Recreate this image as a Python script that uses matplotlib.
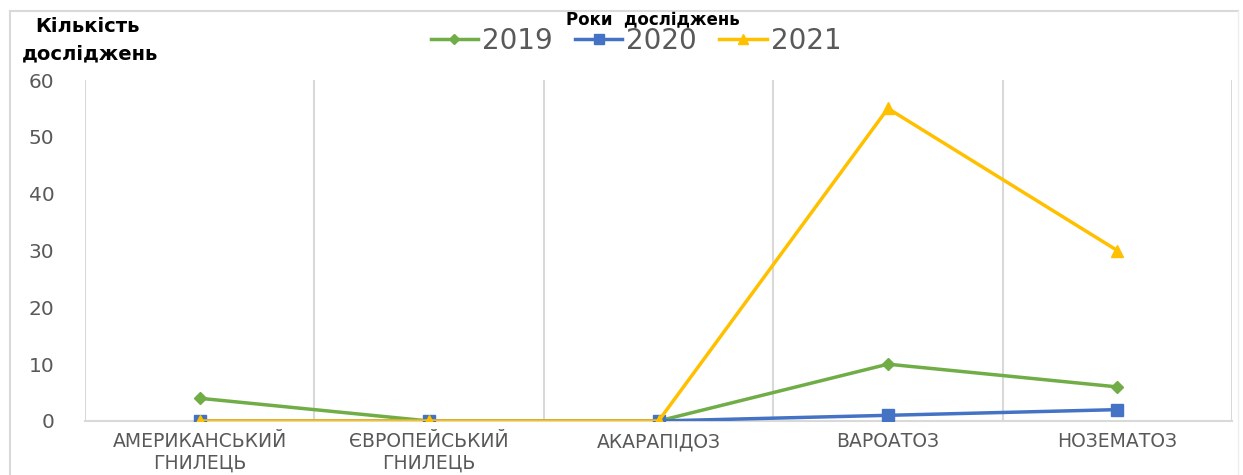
import numpy as np
import matplotlib.pyplot as plt
from matplotlib.lines import Line2D

plt.rcParams['font.family'] = ['DejaVu Sans']

categories = ['АМЕРИКАНСЬКИЙ\nГНИЛЕЦЬ', 'ЄВРОПЕЙСЬКИЙ\nГНИЛЕЦЬ', 'АКАРАПІДОЗ', 'ВАРОАТОЗ', 'НОЗЕМАТОЗ']
years = ['2019', '2020', '2021']
vals_2019 = [4, 0, 0, 10, 6]
vals_2020 = [0, 0, 0, 1, 2]
vals_2021 = [0, 0, 0, 55, 30]
yticks = [0, 10, 20, 30, 40, 50, 60]

colors = ['#70AD47', '#4472C4', '#FFC000']
markers = ['D', 's', '^']
msizes = [6, 9, 8]

W, H = 1243, 475
fig = plt.figure(figsize=(W / 100, H / 100), dpi=100)
ax = fig.add_axes([85 / W, 1 - 421 / H, (1232 - 85) / W, (421 - 80) / H])

x = np.arange(len(categories))
series = [vals_2019, vals_2020, vals_2021]
# 2021 is drawn last so its markers sit on top
for vals, c, m, ms in zip(series, colors, markers, msizes):
    ax.plot(x, vals, color=c, lw=2.5, marker=m, markersize=ms, zorder=3)

ax.set_xlim(-0.5, len(categories) - 0.5)
ax.set_ylim(0, 60)
ax.set_yticks(yticks)
ax.set_xticks(x)
ax.set_xticklabels(categories, fontsize=13.5, color='#595959', linespacing=1.2)
ax.tick_params(axis='y', labelsize=14.5, colors='#595959', length=0, pad=22)
ax.tick_params(axis='x', length=0, pad=8)

# vertical separators between categories
for b in np.arange(-0.5, len(categories)):
    ax.axvline(b, color='#D9D9D9', lw=1.5, zorder=1)
for s in ['top', 'right', 'left']:
    ax.spines[s].set_visible(False)
ax.spines['bottom'].set_color('#D9D9D9')
ax.spines['bottom'].set_linewidth(1.5)

# chart frame
fig.add_artist(Line2D([10 / W, 10 / W], [0, 1 - 11 / H], color='#D9D9D9', lw=1.5))
fig.add_artist(Line2D([10 / W, 1238 / W], [1 - 11 / H, 1 - 11 / H], color='#D9D9D9', lw=1.5))
fig.add_artist(Line2D([1238 / W, 1238 / W], [0, 1 - 11 / H], color='#EEEEEE', lw=1))

fig.text(35 / W, 1 - 26 / H, 'Кількість', fontsize=14, fontweight='bold', color='black', va='center')
fig.text(22 / W, 1 - 54 / H, 'досліджень', fontsize=14, fontweight='bold', color='black', va='center')
fig.text(653 / W, 1 - 20 / H, 'Роки  досліджень', fontsize=12, fontweight='bold', color='black',
         ha='center', va='center')

handles = [Line2D([], [], color=c, lw=2.5, marker=m, markersize=ms * 0.85)
           for c, m, ms in zip(colors, markers, msizes)]
fig.legend(handles, years, loc='center', bbox_to_anchor=(636 / W, 1 - 41 / H), ncol=3,
           frameon=False, fontsize=20, labelcolor='#595959', handlelength=1.7,
           handletextpad=0.15, columnspacing=0.8, borderaxespad=0, borderpad=0)

fig.savefig('out.png', dpi=100)
